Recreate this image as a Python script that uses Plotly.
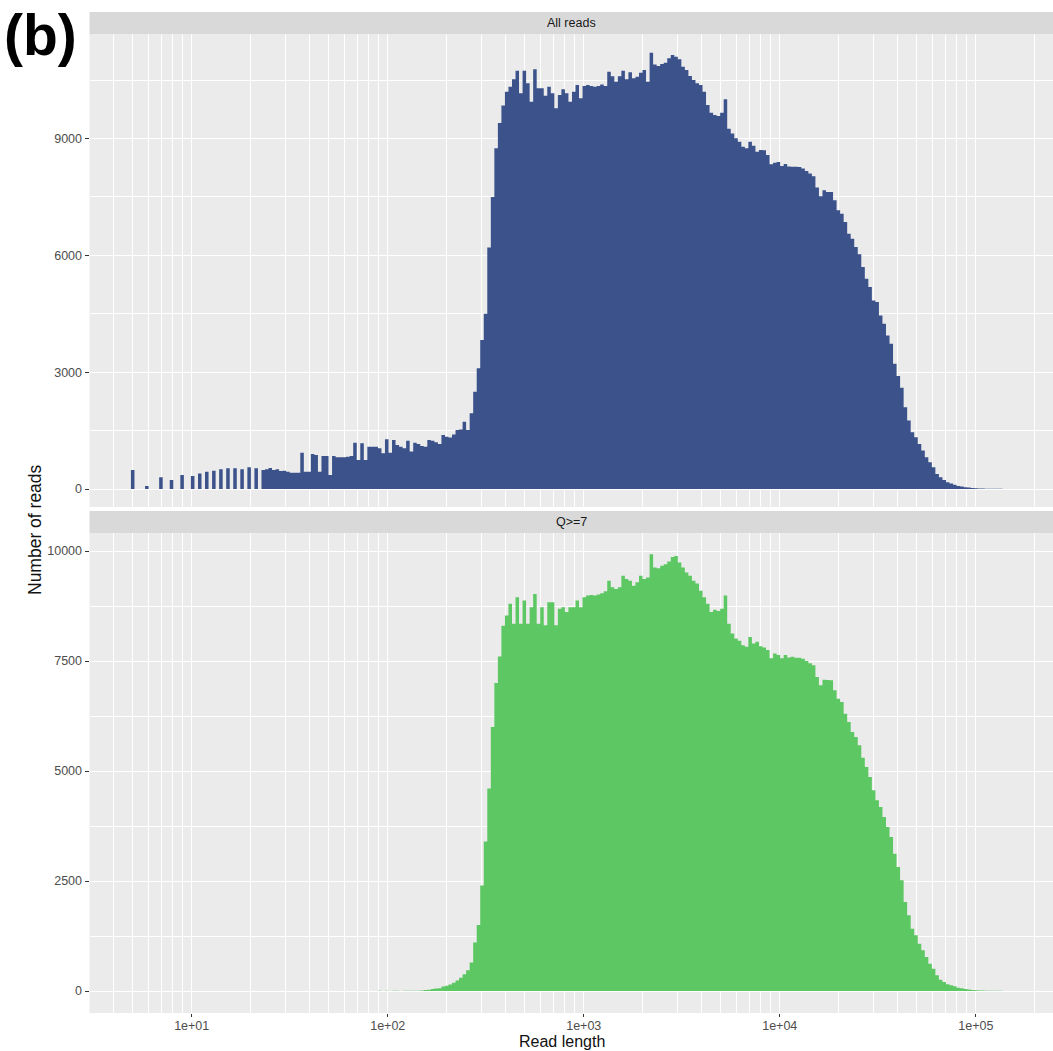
import numpy as np
import plotly.graph_objects as go

# ---------------- data ----------------
# histogram bins: equally spaced in log10(read length), first bin centred on 5 bp
first_bin_center_log10 = float(np.log10(5))
bin_width_log10 = 0.018

all_reads_counts = [
    490, 0, 0, 0, 80, 0, 0, 0, 300, 0,            # 0-9
    0, 230, 0, 0, 360, 0, 0, 335, 0, 400,         # 10-19
    0, 445, 0, 470, 0, 505, 0, 530, 0, 530,       # 20-29
    0, 505, 0, 557, 0, 530, 0, 488, 505, 540,     # 30-39
    488, 505, 460, 470, 445, 420, 420, 420, 933, 445,   # 40-49
    445, 900, 873, 445, 847, 847, 360, 847, 813, 813,   # 50-59
    813, 830, 847, 1190, 745, 1173, 745, 1087, 1087, 1087,  # 60-69
    1044, 916, 1275, 933, 1258, 1130, 1087, 1044, 1241, 960,  # 70-79
    1190, 1156, 1104, 1087, 1258, 1241, 1200, 1156, 1387, 1344,  # 80-89
    1320, 1400, 1515, 1530, 1729, 1515, 1943, 2500, 3100, 3826,  # 90-99
    4500, 6200, 7500, 8750, 9400, 9850, 10200, 10331, 10520, 10742,  # 100-109
    10160, 10742, 10418, 9946, 10777, 10290, 10290, 10100, 10331, 10160,  # 110-119
    9776, 10118, 10266, 10160, 9946, 10203, 10375, 10033, 10350, 10375,  # 120-129
    10350, 10331, 10350, 10390, 10350, 10716, 10600, 10459, 10600, 10742,  # 130-139
    10520, 10700, 10547, 10588, 10690, 10760, 10459, 11200, 10900, 10860,  # 140-149
    10915, 10948, 11060, 11145, 11102, 11034, 10845, 10760, 10606, 10503,  # 150-159
    10418, 10375, 10203, 9861, 9664, 9604, 9579, 9664, 10008, 9250,  # 160-169
    9130, 9006, 8920, 8791, 8749, 8920, 8813, 8663, 8706, 8700,  # 170-179
    8577, 8340, 8380, 8400, 8295, 8346, 8280, 8277, 8277, 8271,  # 180-189
    8228, 8168, 8100, 8031, 7740, 7517, 7671, 7628, 7628, 7414,  # 190-199
    7157, 7071, 6857, 6557, 6428, 6214, 6026, 5700, 5400, 5186,  # 200-209
    4843, 4800, 4457, 4243, 3943, 3728, 3214, 2900, 2600, 2100,  # 210-219
    1757, 1457, 1328, 1157, 986, 814, 686, 557, 386, 300,  # 220-229
    231, 171, 140, 111, 80, 62, 48, 38, 28, 20,  # 230-239
    14, 11, 9, 7, 6, 5, 4, 3, 2, 1,  # 240-249
]

q7_counts = [0] * 67 + [
    0, 2, 0, 3, 0, 4, 0, 5, 3, 0, 6, 4, 7,  # 67-79
    5, 8, 12, 20, 30, 45, 55, 65, 100, 120,  # 80-89
    150, 185, 240, 300, 380, 470, 650, 1100, 1500, 2400,  # 90-99
    3400, 4600, 6000, 7000, 7600, 8300, 8536, 8799, 8348, 8949,  # 100-109
    8348, 8874, 8348, 8724, 9024, 8348, 8724, 8311, 8836, 8836,  # 110-119
    8311, 8686, 8724, 8611, 8724, 8724, 8874, 8724, 8949, 8986,  # 120-129
    9000, 8986, 9010, 9040, 9085, 9324, 9174, 9137, 9174, 9437,  # 130-139
    9362, 9324, 9212, 9287, 9437, 9362, 9400, 9925, 9625, 9610,  # 140-149
    9662, 9700, 9760, 9865, 9887, 9737, 9625, 9512, 9437, 9324,  # 150-159
    9264, 9099, 8949, 8799, 8611, 8664, 8634, 8686, 8986, 8348,  # 160-169
    8123, 8010, 7958, 7860, 7823, 8048, 7898, 7935, 7838, 7808,  # 170-179
    7748, 7560, 7673, 7635, 7560, 7635, 7582, 7597, 7576, 7576,  # 180-189
    7553, 7500, 7450, 7402, 7136, 6947, 7076, 7070, 7060, 6833,  # 190-199
    6644, 6568, 6303, 6114, 5886, 5773, 5583, 5300, 5091, 4864,  # 200-209
    4561, 4333, 4182, 3955, 3727, 3500, 3121, 2818, 2515, 2023,  # 210-219
    1720, 1417, 1265, 1076, 924, 773, 621, 508, 356, 258,  # 220-229
    205, 152, 130, 106, 75, 60, 45, 35, 25, 18,  # 230-239
    12, 9, 8, 6, 5, 4, 3, 2, 2, 1,  # 240-249
]

panel_titles = ["All reads", "Q>=7"]
x_tick_values = [1e1, 1e2, 1e3, 1e4, 1e5]
x_tick_labels = ["1e+01", "1e+02", "1e+03", "1e+04", "1e+05"]
top_y_ticks = [0, 3000, 6000, 9000]
top_y_minor = [1500, 4500, 7500, 10500]
bottom_y_ticks = [0, 2500, 5000, 7500, 10000]
bottom_y_minor = [1250, 3750, 6250, 8750]

assert len(all_reads_counts) == 250, len(all_reads_counts)
assert len(q7_counts) == 250, len(q7_counts)

# ---------------- geometry / style ----------------
W, H = 1053, 1051
FONT = "Liberation Sans, Arial, sans-serif"
PANEL_BG = "#EBEBEB"
STRIP_BG = "#D9D9D9"
TOP_COLOR = "#3B528B"
BOTTOM_COLOR = "#5DC863"
TICK_FONT = dict(family=FONT, size=12.5, color="#4D4D4D")

n_bins = len(all_reads_counts)
edges = 10 ** (first_bin_center_log10 + (np.arange(n_bins + 1) - 0.5) * bin_width_log10)

x_minor = [m * 10 ** k for k in range(0, 6) for m in range(2, 10)]
x_minor = [v for v in x_minor if 3 < v < 3e5]

left_px = 89.5
x_range = [0.4786, 5.394]

top_panel = (34, 507)      # pixel top/bottom
bottom_panel = (533, 1013)
top_strip = (12, 34)
bottom_strip = (511, 533)


def py(p):
    return 1 - p / H


top_range = [-(507 - 489) / 0.03894, (489 - 34) / 0.03894]
bottom_range = [-(1013 - 991) / 0.044, (991 - 533) / 0.044]

fig = go.Figure()

fig.add_trace(go.Scatter(
    x=edges, y=list(all_reads_counts) + [all_reads_counts[-1]],
    mode="lines", line=dict(shape="hv", width=0, color=TOP_COLOR),
    fill="tozeroy", fillcolor=TOP_COLOR, xaxis="x2", yaxis="y2",
    hoverinfo="skip", showlegend=False,
))
fig.add_trace(go.Scatter(
    x=edges, y=list(q7_counts) + [q7_counts[-1]],
    mode="lines", line=dict(shape="hv", width=0, color=BOTTOM_COLOR),
    fill="tozeroy", fillcolor=BOTTOM_COLOR, xaxis="x", yaxis="y",
    hoverinfo="skip", showlegend=False,
))

xcommon = dict(
    type="log", range=x_range, domain=[left_px / W, 1],
    tickmode="array", tickvals=x_tick_values, ticktext=x_tick_labels,
    showgrid=True, gridcolor="white", gridwidth=1.1, zeroline=False, showline=False,
    minor=dict(tickmode="array", tickvals=x_minor, showgrid=True,
               gridcolor="white", gridwidth=0.6, ticks=""),
)


def yaxis_dict(panel, rng, ticks, minor, anchor):
    return dict(domain=[py(panel[1]), py(panel[0])], range=rng,
                tickmode="array", tickvals=ticks, ticktext=[str(t) for t in ticks],
                ticks="outside", ticklen=4, tickcolor="#333333", tickfont=TICK_FONT,
                showgrid=True, gridcolor="white", gridwidth=1.1, zeroline=False,
                minor=dict(tickmode="array", tickvals=minor, showgrid=True,
                           gridcolor="white", gridwidth=0.6, ticks=""),
                anchor=anchor)


fig.update_layout(
    xaxis=dict(**xcommon, anchor="y", ticks="outside", ticklen=3, tickwidth=1,
               tickcolor="#333333", tickfont=TICK_FONT, ticklabelstandoff=-2),
    xaxis2=dict(**xcommon, anchor="y2", matches="x", showticklabels=False, ticks=""),
    yaxis=yaxis_dict(bottom_panel, bottom_range, bottom_y_ticks, bottom_y_minor, "x"),
    yaxis2=yaxis_dict(top_panel, top_range, top_y_ticks, top_y_minor, "x2"),
    plot_bgcolor=PANEL_BG, paper_bgcolor="white",
    width=W, height=H, margin=dict(l=0, r=0, t=0, b=0),
    showlegend=False,
)

shapes = []
annotations = []
for (s0, s1), title in zip([top_strip, bottom_strip], panel_titles):
    shapes.append(dict(type="rect", xref="paper", yref="paper", x0=left_px / W, x1=1,
                       y0=py(s1), y1=py(s0), fillcolor=STRIP_BG, line=dict(width=0), layer="below"))
    annotations.append(dict(text=title, xref="paper", yref="paper",
                            x=(left_px / W + 1) / 2, y=py((s0 + s1) / 2), showarrow=False,
                            xanchor="center", yanchor="middle",
                            font=dict(family=FONT, size=12.5, color="#1A1A1A")))

annotations.append(dict(text="Read length", xref="paper", yref="paper",
                        x=562 / W, y=0, showarrow=False,
                        xanchor="center", yanchor="bottom", borderpad=0,
                        font=dict(family=FONT, size=16, color="#111111")))
annotations.append(dict(text="Number of reads", xref="paper", yref="paper",
                        x=35 / W, y=py(530), showarrow=False, textangle=-90,
                        xanchor="center", yanchor="middle",
                        font=dict(family=FONT, size=17.5, color="#111111")))
annotations.append(dict(text="<b>(b)</b>", xref="paper", yref="paper",
                        x=2 / W, y=py(35), showarrow=False,
                        xanchor="left", yanchor="middle",
                        font=dict(family=FONT, size=57, color="black")))

fig.update_layout(shapes=shapes, annotations=annotations)
fig.write_html(
    "out.html",
    config={"displayModeBar": False},
    post_script="document.body.style.margin='0px';document.body.style.overflow='hidden';",
)
